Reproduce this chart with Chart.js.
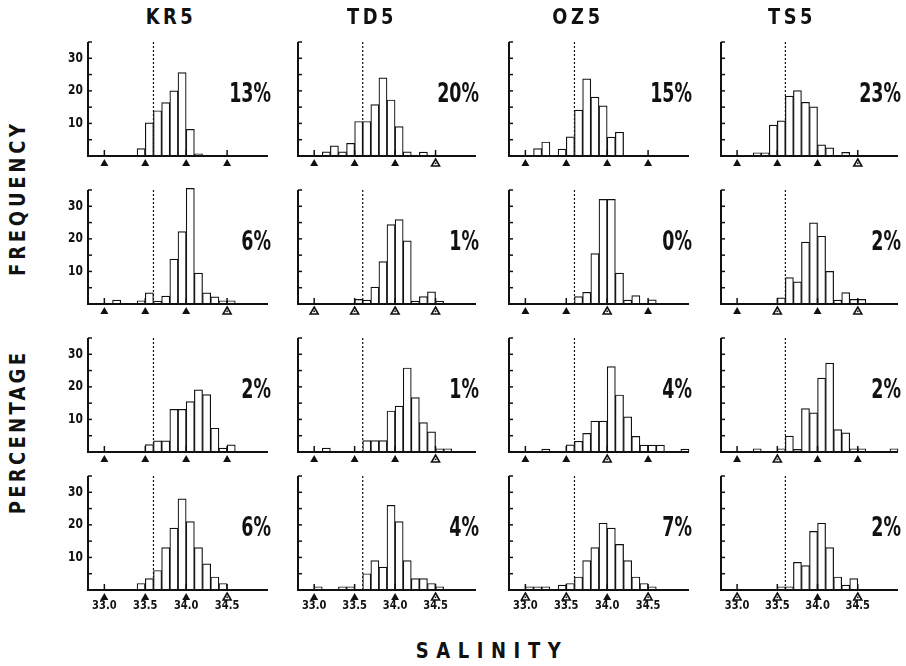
<!DOCTYPE html>
<html>
<head>
<meta charset="utf-8">
<script src="https://cdn.jsdelivr.net/npm/chart.js@4.4.1/dist/chart.umd.min.js"></script>
<style>
  body { margin: 0; background: #fff; width: 906px; height: 666px; position: relative; overflow: hidden; }
  canvas { position: absolute; }
  .lbl { position: absolute; white-space: nowrap; line-height: 1; color: #111;
         font-family: 'Liberation Sans Narrow', 'DejaVu Sans Condensed', sans-serif; font-weight: bold; }
</style>
</head>
<body>
<script>
// salinity bins (lower edge), 0.1 wide
const binStart = [33.0, 33.1, 33.2, 33.3, 33.4, 33.5, 33.6, 33.7, 33.8, 33.9,
                  34.0, 34.1, 34.2, 34.3, 34.4, 34.5, 34.6, 34.7, 34.8, 34.9];
const xTicks = [33.0, 33.5, 34.0, 34.5];
const yTicks = [5, 10, 15, 20, 25, 30, 35];
const yLabels = [10, 20, 30];
const stations = ['KR5', 'TD5', 'OZ5', 'TS5'];

// percentage frequency per bin, one row per panel row
const KR5 = [
  [0, 0, 0, 0, 2.3, 10.2, 13.9, 16.4, 20, 25.6, 8.2, 0.7, 0, 0, 0, 0, 0, 0, 0, 0],
  [0, 1.2, 0, 0, 1, 3.4, 0.9, 2.4, 13.8, 22.2, 35.5, 9.5, 3.4, 2.2, 1, 1, 0, 0, 0, 0],
  [0, 0, 0, 0, 0, 2.3, 3.4, 3.4, 13.1, 13.1, 15.5, 19.1, 17.6, 7.3, 1.2, 2.2, 0, 0, 0, 0],
  [0, 0, 0, 0, 2, 3.5, 6, 13, 19, 28, 21, 13, 8, 4, 2, 0, 0, 0, 0, 0]
];
const TD5 = [
  [0, 1.3, 3.1, 1.3, 3.9, 10.6, 10.6, 15.8, 24, 17.2, 9, 1.3, 0, 1.2, 0, 0, 0, 0, 0, 0],
  [0, 0, 0, 0, 0, 1.4, 1.2, 5.2, 13, 24.4, 25.9, 19.4, 0.9, 2.3, 3.7, 0.9, 0, 0, 0, 0],
  [0, 1.2, 0, 0, 0, 0, 3.5, 3.5, 3.5, 12.6, 14.1, 25.8, 16.7, 9, 6.2, 1, 1, 0, 0, 0],
  [1, 0, 0, 1, 1, 0, 5, 9, 7, 26, 21, 9, 3.5, 3.5, 2, 1, 0, 0, 0, 0]
];
const OZ5 = [
  [0, 2.3, 4.3, 0, 2.1, 5.9, 14.1, 23.7, 18.1, 15.4, 5.8, 7.3, 0, 0, 0, 0, 0, 0, 0, 0],
  [0, 0, 0, 0, 0, 0, 2.3, 3.6, 15.5, 32.1, 32.1, 9.5, 1.2, 2.6, 0, 1.3, 0, 0, 0, 0],
  [0, 0, 0.9, 0, 0, 2.2, 3.3, 5.7, 9.5, 9.5, 26.2, 17.5, 10.8, 4.8, 2.1, 2.1, 2.1, 0, 0, 0.9],
  [1, 1, 1, 0, 1.5, 2, 4, 9, 13, 20.5, 19, 14, 9, 4, 2, 1, 0, 0, 0, 0]
];
const TS5 = [
  [0, 0, 1, 1, 9.5, 10.8, 18.4, 20.1, 16.5, 15.1, 3.4, 2.5, 0, 1.1, 0, 0, 0, 0, 0, 0],
  [0, 0, 0, 0, 0, 1.9, 8.1, 6.8, 19, 24.9, 20.8, 10, 1.2, 3.5, 1.4, 1.4, 0, 0, 0, 0],
  [0, 0, 1, 0, 0, 1, 4.9, 0.8, 13.3, 12, 22.7, 27.3, 6.9, 5.9, 1, 1, 0, 0, 0, 1],
  [0, 0, 0, 0, 0, 1, 1, 8.5, 7.5, 18, 20.5, 13, 4, 1.5, 3.5, 0, 0, 0, 0, 0]
];
const seriesByStation = [KR5, TD5, OZ5, TS5];

// percent printed in each panel
const pctKR5 = [13, 6, 2, 6];
const pctTD5 = [20, 1, 1, 4];
const pctOZ5 = [15, 0, 4, 7];
const pctTS5 = [23, 2, 2, 2];
const pctByStation = [pctKR5, pctTD5, pctOZ5, pctTS5];

// triangle markers under 33.0/33.5/34.0/34.5 : F filled, H open
const markKR5 = ['FFFF', 'FFFH', 'FFFF', 'FFFH'];
const markTD5 = ['FFFH', 'HHHH', 'FFFH', 'FFFH'];
const markOZ5 = ['FFFF', 'FFHF', 'FFHF', 'HHFH'];
const markTS5 = ['FFFH', 'FHFH', 'FHFF', 'HHFH'];
const marksByStation = [markKR5, markTD5, markOZ5, markTS5];

// page layout
const x33 = [104, 314.5, 525.5, 737];      // pixel of 33.0 in each column
const pxUnit = [81.7, 81, 81.6, 80.3];     // pixels per salinity unit
const baseY = [156.5, 304.5, 452, 590];    // baseline of each row
const pyUnit = 3.27;
const XMIN = 32.8, XMAX = 35.0, YMAX = 35;
const PAD = { left: 40, top: 12, right: 16, bottom: 30 };
const FONT = "'Liberation Sans Narrow', 'DejaVu Sans Condensed', sans-serif";

function squeezeText(ctx, txt, x, y, sx) {
  ctx.save();
  ctx.translate(x, y);
  ctx.scale(sx, 1);
  ctx.fillText(txt, 0, 0);
  ctx.restore();
}

const dottedLine = {
  id: 'dottedLine',
  beforeDatasetsDraw(chart) {
    const { ctx, scales: { x, y } } = chart;
    ctx.save();
    ctx.strokeStyle = '#111';
    ctx.lineWidth = 1.2;
    ctx.setLineDash([2, 2]);
    ctx.beginPath();
    ctx.moveTo(x.getPixelForValue(33.6), y.getPixelForValue(0));
    ctx.lineTo(x.getPixelForValue(33.6), y.getPixelForValue(YMAX));
    ctx.stroke();
    ctx.restore();
  }
};

const panelDecor = {
  id: 'panelDecor',
  afterDatasetsDraw(chart, args, opts) {
    const { ctx, scales: { x, y } } = chart;
    const y0 = y.getPixelForValue(0);
    const xl = x.getPixelForValue(XMIN);
    ctx.save();
    ctx.strokeStyle = '#111';
    ctx.fillStyle = '#111';
    ctx.lineWidth = 2;
    // axes
    ctx.beginPath();
    ctx.moveTo(xl, y.getPixelForValue(YMAX));
    ctx.lineTo(xl, y0);
    ctx.lineTo(x.getPixelForValue(XMAX), y0);
    ctx.stroke();
    // y ticks, pointing inward
    ctx.lineWidth = 1.5;
    yTicks.forEach(v => {
      const py = y.getPixelForValue(v);
      ctx.beginPath();
      ctx.moveTo(xl, py);
      ctx.lineTo(xl + 4, py);
      ctx.stroke();
    });
    // x ticks + triangles
    xTicks.forEach((v, i) => {
      const px = x.getPixelForValue(v);
      ctx.lineWidth = 1.5;
      ctx.beginPath();
      ctx.moveTo(px, y0);
      ctx.lineTo(px, y0 - 6);
      ctx.stroke();
      ctx.beginPath();
      ctx.moveTo(px, y0 + 3);
      ctx.lineTo(px + 4, y0 + 10);
      ctx.lineTo(px - 4, y0 + 10);
      ctx.closePath();
      if (opts.marks[i] === 'F') {
        ctx.fill();
      } else {
        ctx.lineWidth = 1.6;
        ctx.stroke();
        ctx.fillRect(px - 0.8, y0 + 6.5, 1.6, 1.6);
      }
    });
    // y labels (first column only)
    if (opts.col === 0) {
      ctx.font = 'bold 14px ' + FONT;
      ctx.textAlign = 'right';
      ctx.textBaseline = 'middle';
      yLabels.forEach(v => squeezeText(ctx, String(v), xl - 5, y.getPixelForValue(v), 0.85));
    }
    // x labels (bottom row only)
    if (opts.row === 3) {
      ctx.font = 'bold 13px ' + FONT;
      ctx.textAlign = 'center';
      ctx.textBaseline = 'middle';
      xTicks.forEach(v => squeezeText(ctx, v.toFixed(1), x.getPixelForValue(v), y0 + 16, 0.85));
    }
    // percentage
    ctx.font = 'bold 27px ' + FONT;
    ctx.textAlign = 'right';
    ctx.textBaseline = 'middle';
    squeezeText(ctx, opts.pct + '%', x.getPixelForValue(XMAX) + 3, y0 - 61, 0.72);
    ctx.restore();
  }
};

stations.forEach((st, c) => {
  for (let r = 0; r < 4; r++) {
    const L = x33[c] - (33.0 - XMIN) * pxUnit[c];
    const W = (XMAX - XMIN) * pxUnit[c];
    const H = YMAX * pyUnit;
    const T = baseY[r] - H;
    const cv = document.createElement('canvas');
    cv.width = Math.round(W + PAD.left + PAD.right);
    cv.height = Math.round(H + PAD.top + PAD.bottom);
    cv.style.left = (L - PAD.left) + 'px';
    cv.style.top = (T - PAD.top) + 'px';
    document.body.appendChild(cv);
    const vals = seriesByStation[c][r];
    new Chart(cv, {
      type: 'bar',
      data: {
        datasets: [{
          data: vals.map((v, i) => ({ x: Math.round((binStart[i] + 0.05) * 100) / 100, y: v })),
          backgroundColor: '#fff',
          borderColor: '#111',
          borderWidth: 1.2,
          borderSkipped: 'bottom',
          barPercentage: 1,
          categoryPercentage: 1,
          clip: false
        }]
      },
      options: {
        responsive: false,
        animation: false,
        events: [],
        layout: { padding: PAD },
        plugins: {
          legend: { display: false },
          tooltip: { enabled: false },
          panelDecor: { col: c, row: r, pct: pctByStation[c][r], marks: marksByStation[c][r] }
        },
        scales: {
          x: { type: 'linear', min: XMIN, max: XMAX, offset: false, display: false },
          y: { min: 0, max: YMAX, display: false }
        }
      },
      plugins: [dottedLine, panelDecor]
    });
  }
});

// titles
const titleX = [171, 372, 578, 792];
stations.forEach((st, c) => {
  const d = document.createElement('div');
  d.className = 'lbl';
  d.textContent = st;
  d.style.cssText = `left:${titleX[c]}px;top:17px;font-size:22px;letter-spacing:4px;transform:translate(-50%,-50%) scaleX(0.9);`;
  document.body.appendChild(d);
});
function addLabel(txt, x, y, rot, sp) {
  const d = document.createElement('div');
  d.className = 'lbl';
  d.textContent = txt;
  d.style.cssText = `left:${x}px;top:${y}px;font-size:21px;letter-spacing:${sp}px;transform:translate(-50%,-50%) rotate(${rot}deg) scaleX(0.95);`;
  document.body.appendChild(d);
}
addLabel('FREQUENCY', 18, 198, -90, 4);
addLabel('PERCENTAGE', 18, 432, -90, 3.5);
addLabel('SALINITY', 492, 651, 0, 8);
</script>
</body>
</html>
